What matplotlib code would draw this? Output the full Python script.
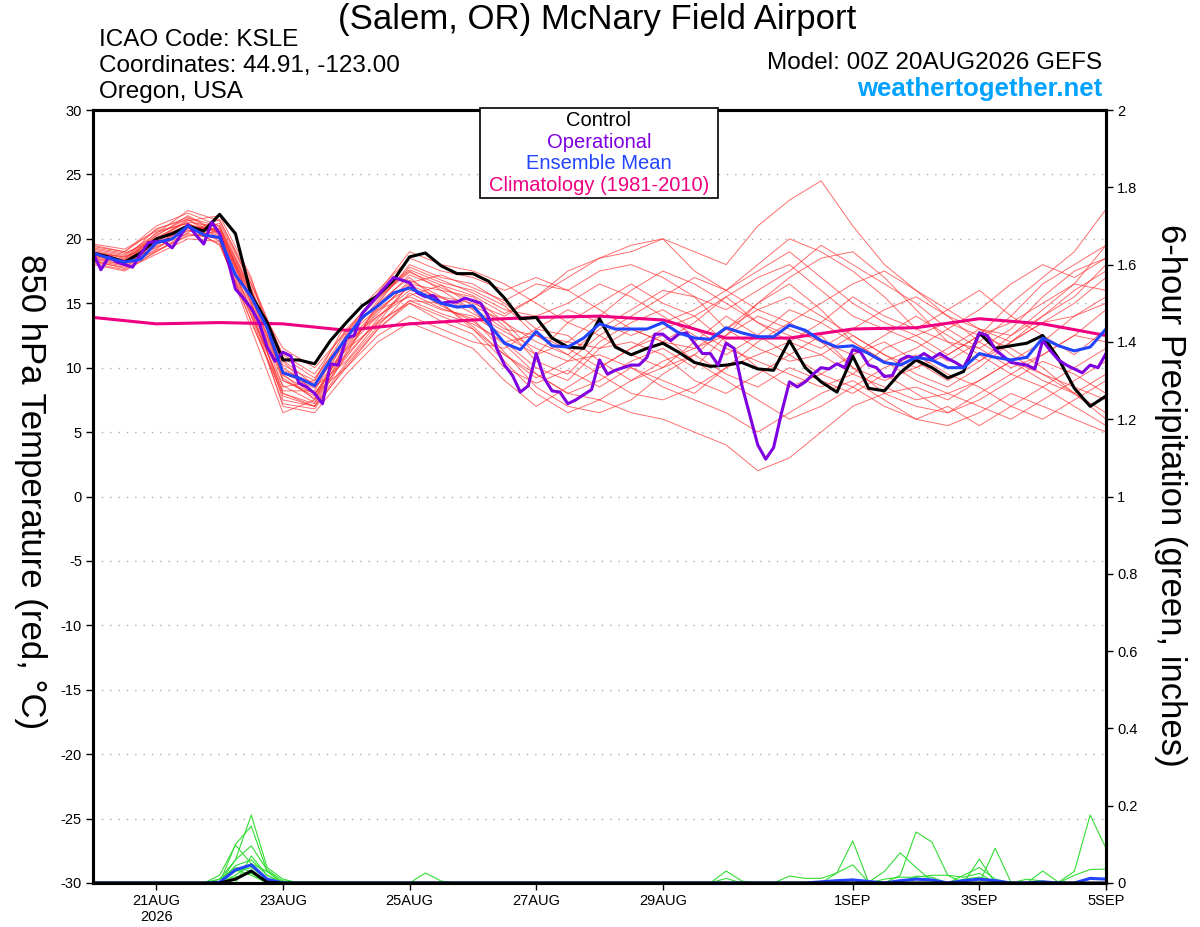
import numpy as np
import pandas as pd
import matplotlib
matplotlib.use('Agg')
import matplotlib.pyplot as plt
from matplotlib.patches import Rectangle

plt.rcParams['font.family'] = ['Liberation Sans', 'DejaVu Sans']

# ejes de tiempo (00Z 20AUG2026 a 00Z 05SEP2026)
t_start, t_end = '2026-08-20 00:00', '2026-09-05 00:00'
times6 = pd.date_range(t_start, t_end, freq='6h')
times3 = pd.date_range(t_start, t_end, freq='3h')
times12 = pd.date_range(t_start, t_end, freq='12h')
times24 = pd.date_range(t_start, t_end, freq='24h')

# control (negro), cada 6 h
control = [18.9, 18.6, 18.2, 18.9, 20.0, 20.4, 21.0, 20.6, 21.9, 20.4,
           15.6, 13.5, 10.6, 10.6, 10.3, 12.1, 13.5, 14.8, 15.6, 16.8,
           18.6, 18.9, 17.9, 17.3, 17.3, 16.7, 15.4, 13.8, 13.9, 12.3,
           11.6, 11.5, 13.8, 11.6, 11.0, 11.5, 11.9, 11.2, 10.4, 10.1,
           10.2, 10.4, 9.9, 9.8, 12.1, 10.0, 8.9, 8.1, 10.9, 8.4,
           8.2, 9.6, 10.6, 10.0, 9.2, 9.7, 12.7, 11.5, 11.7, 11.9,
           12.5, 10.7, 8.4, 7.0, 7.8]

# operacional (morado), cada 3 h
operational = [18.9, 17.6, 18.6, 18.2, 18.0, 17.8, 18.8, 19.7, 19.8, 19.8,
               19.3, 20.2, 21.1, 20.3, 19.6, 21.3, 20.4, 18.4, 16.1, 15.4,
               14.6, 13.5, 11.6, 10.5, 11.2, 10.9, 8.8, 8.5, 8.0, 7.2,
               10.3, 10.2, 12.3, 12.5, 14.2, 14.9, 15.6, 16.3, 17.0, 16.8,
               16.6, 15.8, 15.5, 15.6, 15.0, 15.1, 15.1, 15.4, 15.2, 15.0,
               13.9, 11.5, 10.2, 9.4, 8.1, 8.6, 11.1, 9.2, 8.2, 8.1,
               7.2, 7.5, 7.9, 8.3, 10.6, 9.5, 9.8, 10.0, 10.2, 10.2,
               10.8, 12.6, 12.6, 12.1, 12.6, 12.7, 11.9, 11.1, 11.1, 10.2,
               11.9, 11.5, 8.6, 6.3, 4.0, 2.9, 3.8, 6.5, 8.9, 8.5,
               8.9, 9.5, 10.0, 9.9, 10.3, 10.0, 11.4, 11.2, 10.2, 10.0,
               9.3, 9.4, 10.6, 10.9, 10.7, 11.1, 10.7, 11.1, 10.7, 10.4,
               10.0, 11.2, 12.7, 12.5, 11.4, 10.9, 10.4, 10.3, 10.2, 9.9,
               12.1, 11.3, 10.6, 10.2, 9.9, 9.6, 10.2, 10.0, 11.1]

# media del ensamble (azul), cada 6 h
ens_mean = [18.9, 18.5, 18.2, 18.4, 19.7, 20.0, 21.0, 20.3, 20.1, 17.2,
            15.5, 13.1, 9.6, 9.2, 8.6, 10.6, 12.3, 13.9, 14.8, 15.8,
            16.2, 15.6, 15.0, 14.7, 14.8, 13.4, 11.9, 11.4, 12.8, 11.7,
            11.6, 12.3, 13.4, 13.0, 13.0, 13.0, 13.5, 12.7, 12.3, 12.2,
            13.1, 12.7, 12.4, 12.4, 13.3, 12.9, 12.1, 11.6, 11.7, 11.1,
            10.4, 10.2, 10.8, 10.6, 10.0, 10.0, 11.1, 10.8, 10.6, 10.8,
            12.3, 11.7, 11.3, 11.6, 13.0]

# climatologia 1981-2010 (rosa), diaria
climatology = [13.9, 13.4, 13.5, 13.4, 12.9, 13.4, 13.7, 13.9, 14.0, 13.7,
               12.3, 12.3, 13.0, 13.1, 13.8, 13.4, 12.5]

# miembros del ensamble (rojo), cada 12 h
members_temp = [
    [18.5, 18.0, 19.5, 21.0, 20.5, 15.0, 9.0, 8.0, 11.5, 14.0, 16.0, 15.5, 15.0, 14.0, 15.5, 17.0, 18.5, 19.0, 20.0, 19.0, 18.0, 21.0, 23.0, 24.5, 21.0, 18.0, 16.0, 14.0, 13.0, 12.0, 13.5, 15.0, 17.0],
    [19.0, 18.5, 20.0, 21.5, 20.0, 14.5, 8.0, 7.0, 10.0, 13.0, 15.0, 14.0, 13.0, 11.0, 9.5, 8.0, 7.5, 6.5, 6.0, 5.0, 4.0, 2.0, 3.0, 5.0, 7.0, 8.0, 8.5, 7.5, 9.0, 10.5, 9.0, 8.0, 9.5],
    [18.0, 17.5, 19.0, 20.5, 21.5, 16.5, 11.0, 9.5, 13.0, 15.5, 17.5, 16.0, 15.5, 13.5, 12.0, 11.0, 13.0, 14.5, 16.0, 15.5, 13.0, 11.5, 10.5, 11.0, 12.5, 11.0, 9.5, 8.5, 10.0, 12.0, 13.5, 14.0, 15.0],
    [19.5, 19.0, 21.0, 22.0, 21.0, 15.0, 7.5, 7.0, 11.0, 15.0, 18.0, 17.0, 16.5, 15.0, 13.0, 12.5, 10.5, 9.0, 10.5, 11.5, 12.5, 14.0, 13.0, 12.0, 10.0, 8.0, 7.0, 6.5, 8.0, 9.5, 11.0, 12.5, 14.5],
    [18.8, 18.2, 20.5, 21.2, 19.8, 13.0, 6.5, 7.5, 12.0, 14.5, 15.5, 14.5, 14.0, 12.5, 11.0, 13.5, 15.0, 16.5, 15.0, 14.0, 15.5, 17.0, 18.0, 16.0, 14.0, 13.0, 12.0, 10.5, 12.0, 14.0, 16.5, 18.0, 19.5],
    [18.2, 17.8, 19.2, 20.8, 20.8, 16.0, 10.0, 8.5, 10.5, 13.5, 16.5, 16.0, 14.5, 12.0, 10.0, 9.0, 11.5, 12.0, 11.0, 9.0, 8.0, 9.5, 11.0, 12.5, 10.0, 9.0, 10.0, 11.5, 13.0, 11.0, 9.5, 8.0, 6.5],
    [19.2, 18.8, 20.2, 21.8, 20.5, 15.5, 9.5, 7.5, 12.5, 15.0, 17.0, 15.0, 13.0, 10.5, 8.0, 6.5, 7.5, 9.0, 10.0, 12.0, 14.0, 12.5, 11.0, 9.5, 8.5, 7.0, 6.0, 5.5, 6.5, 8.0, 7.0, 6.0, 5.0],
    [18.6, 18.3, 19.8, 21.0, 19.5, 14.0, 8.5, 9.0, 13.5, 16.0, 18.5, 17.5, 17.0, 16.0, 17.0, 16.0, 14.5, 13.0, 12.0, 11.5, 13.0, 15.0, 16.5, 14.5, 12.0, 10.5, 11.5, 13.0, 14.5, 16.5, 18.0, 17.0, 18.5],
    [19.0, 18.6, 19.6, 20.6, 21.2, 16.5, 10.5, 8.0, 10.0, 12.5, 14.0, 13.0, 12.0, 11.5, 13.0, 14.5, 13.5, 12.5, 13.5, 14.5, 16.0, 18.0, 20.0, 19.0, 17.5, 15.5, 13.0, 12.0, 11.5, 10.0, 11.0, 12.5, 12.0],
    [18.4, 18.0, 19.4, 20.4, 20.0, 14.5, 7.0, 6.5, 9.5, 12.0, 13.5, 12.5, 11.5, 9.0, 7.0, 8.5, 10.0, 11.5, 12.5, 10.5, 9.0, 7.5, 6.0, 7.0, 8.5, 10.0, 11.0, 9.5, 8.5, 7.0, 6.0, 7.5, 9.0],
    [18.9, 18.4, 20.8, 21.5, 20.3, 15.8, 11.5, 10.0, 12.8, 15.8, 19.0, 18.0, 17.5, 16.5, 15.0, 13.5, 12.5, 14.0, 15.5, 17.0, 16.0, 14.5, 13.5, 15.0, 16.5, 17.5, 16.0, 14.5, 13.0, 12.5, 14.0, 16.0, 17.5],
    [19.3, 18.9, 19.9, 21.4, 21.8, 17.0, 9.0, 7.8, 11.8, 14.2, 16.8, 15.5, 14.2, 12.8, 11.5, 10.5, 11.0, 10.0, 9.0, 8.0, 10.0, 12.0, 13.5, 12.0, 11.0, 12.5, 14.0, 12.5, 11.0, 9.5, 8.5, 10.0, 11.5],
    [18.1, 17.6, 18.8, 20.0, 19.8, 13.5, 8.0, 7.2, 11.2, 14.8, 17.2, 16.2, 15.2, 13.2, 10.5, 9.5, 12.0, 13.5, 14.5, 13.0, 11.5, 10.5, 9.5, 8.5, 9.5, 11.5, 12.5, 13.5, 12.5, 13.5, 15.0, 16.5, 16.0],
    [18.7, 18.1, 20.3, 21.6, 21.0, 16.2, 9.8, 8.8, 12.2, 15.2, 17.8, 16.8, 15.8, 14.5, 14.0, 15.0, 16.5, 15.5, 14.0, 12.5, 11.0, 12.5, 14.5, 13.5, 12.0, 10.5, 9.0, 8.0, 9.0, 10.5, 12.0, 14.0, 15.5],
    [19.6, 19.2, 20.6, 21.2, 20.2, 14.2, 8.2, 8.2, 12.6, 15.6, 17.6, 16.6, 16.0, 14.8, 12.5, 11.0, 9.5, 8.0, 7.5, 8.5, 10.0, 11.0, 12.0, 11.0, 9.5, 8.5, 7.5, 8.0, 7.0, 6.0, 7.5, 9.0, 10.5],
    [18.3, 17.9, 19.1, 20.2, 20.6, 15.2, 9.2, 7.6, 10.8, 13.8, 16.4, 15.4, 14.6, 13.0, 12.5, 12.0, 14.0, 16.0, 17.5, 16.5, 15.0, 13.5, 12.5, 11.5, 13.0, 14.5, 15.5, 14.0, 12.0, 10.5, 9.5, 8.5, 7.5],
    [19.1, 18.7, 20.4, 22.2, 21.4, 16.8, 10.8, 9.2, 12.4, 14.6, 16.2, 14.8, 13.6, 11.8, 9.5, 8.0, 9.0, 10.5, 11.5, 10.0, 12.5, 15.0, 17.0, 18.5, 19.0, 17.0, 14.5, 12.0, 10.5, 12.0, 14.0, 15.5, 18.0],
    [18.5, 18.2, 19.7, 20.9, 20.7, 15.6, 9.6, 8.4, 11.4, 13.4, 15.2, 14.2, 13.4, 12.0, 12.5, 11.5, 10.0, 11.5, 13.0, 14.0, 12.0, 10.0, 8.5, 9.5, 11.0, 12.0, 10.5, 9.0, 10.5, 12.5, 14.5, 16.5, 19.5],
    [18.8, 18.3, 19.3, 20.7, 19.6, 13.6, 7.8, 7.0, 10.4, 13.2, 15.8, 14.6, 13.8, 11.2, 8.5, 7.0, 6.5, 7.5, 9.5, 11.0, 13.0, 14.5, 15.5, 14.0, 12.5, 11.0, 10.0, 11.0, 12.5, 11.5, 10.0, 8.0, 6.0],
    [18.9, 18.6, 20.1, 21.3, 20.9, 16.0, 10.2, 9.0, 12.8, 15.4, 17.4, 16.4, 15.6, 14.2, 15.5, 17.5, 18.5, 19.5, 20.0, 17.5, 16.0, 17.5, 19.0, 17.0, 15.0, 13.5, 12.5, 11.0, 12.5, 15.0, 17.0, 19.0, 22.3],
    [19.4, 19.0, 20.7, 21.7, 20.4, 14.8, 8.6, 7.3, 11.6, 14.4, 16.6, 17.2, 16.2, 15.2, 16.5, 16.0, 17.5, 18.0, 17.0, 15.5, 14.5, 16.0, 17.5, 19.5, 18.0, 16.5, 15.0, 13.0, 11.5, 13.0, 15.5, 17.5, 18.5],
    [18.3, 17.7, 19.0, 20.3, 20.1, 15.4, 9.4, 8.0, 11.0, 13.6, 15.0, 13.6, 12.6, 10.0, 8.8, 9.8, 8.5, 10.0, 8.5, 7.5, 6.5, 5.0, 6.5, 8.0, 9.0, 7.5, 6.0, 7.0, 5.5, 7.0, 8.5, 7.0, 5.5],
    [18.7, 18.4, 20.0, 21.1, 20.6, 15.9, 10.6, 8.6, 12.0, 14.0, 15.6, 16.4, 14.8, 13.6, 11.0, 12.0, 11.5, 13.0, 12.0, 13.5, 15.5, 13.5, 12.0, 13.5, 15.5, 14.0, 13.0, 14.5, 16.0, 14.0, 12.5, 11.0, 13.0],
    [19.0, 18.1, 19.6, 20.9, 20.0, 14.0, 7.2, 6.8, 10.2, 13.0, 15.2, 15.0, 13.2, 11.0, 9.2, 10.5, 12.5, 11.0, 10.0, 11.0, 9.5, 8.5, 10.0, 9.0, 8.0, 9.5, 8.0, 6.5, 7.5, 9.0, 10.5, 9.5, 8.0],
]

# precipitacion de 6 h (pulgadas): solo pasos no nulos {paso: valor}
members_precip = [
    {8: 0.01, 9: 0.06, 10: 0.176, 11: 0.04, 12: 0.01},
    {9: 0.10, 10: 0.147, 11: 0.03},
    {8: 0.02, 9: 0.098, 10: 0.05, 11: 0.01, 51: 0.02, 52: 0.132, 53: 0.106, 54: 0.02},
    {9: 0.06, 10: 0.096, 11: 0.034, 12: 0.005, 13: 0.003, 14: 0.003},
    {9: 0.045, 10: 0.06, 11: 0.02, 21: 0.026, 22: 0.005},
    {9: 0.03, 10: 0.04, 11: 0.01, 40: 0.031, 41: 0.005, 47: 0.026, 48: 0.109, 49: 0.002, 57: 0.09, 58: 0.002},
    {8: 0.01, 9: 0.04, 10: 0.03, 11: 0.005, 44: 0.018, 45: 0.012, 46: 0.012, 47: 0.026, 48: 0.047,
     49: 0.002, 50: 0.03, 51: 0.078, 52: 0.04, 53: 0.005, 56: 0.062},
    {9: 0.02, 10: 0.05, 11: 0.03, 60: 0.031, 61: 0.002, 62: 0.03, 63: 0.176, 64: 0.09},
    {9: 0.035, 10: 0.02, 40: 0.012, 52: 0.018, 53: 0.015, 55: 0.02, 56: 0.04, 57: 0.01, 62: 0.02, 63: 0.035, 64: 0.036},
    {10: 0.07, 11: 0.02, 50: 0.01, 51: 0.015, 52: 0.015, 53: 0.02, 54: 0.02, 55: 0.015, 56: 0.025, 59: 0.01, 60: 0.005},
    {9: 0.015, 10: 0.025, 12: 0.005, 48: 0.01, 55: 0.01, 56: 0.015, 57: 0.005},
]
mean_precip = {8: 0.002, 9: 0.034, 10: 0.047, 11: 0.01, 46: 0.003, 47: 0.006, 48: 0.008, 49: 0.004,
               51: 0.006, 52: 0.01, 53: 0.008, 55: 0.006, 56: 0.01, 57: 0.006, 60: 0.003, 63: 0.012, 64: 0.01}
control_precip = {9: 0.01, 10: 0.031, 11: 0.002}

# etiquetas
temp_ticks = list(range(-30, 31, 5))
precip_ticks = [0, 0.2, 0.4, 0.6, 0.8, 1.0, 1.2, 1.4, 1.6, 1.8, 2.0]
precip_labels = ['0', '0.2', '0.4', '0.6', '0.8', '1', '1.2', '1.4', '1.6', '1.8', '2']
date_ticks = pd.to_datetime(['2026-08-21', '2026-08-23', '2026-08-25', '2026-08-27',
                             '2026-08-29', '2026-09-01', '2026-09-03', '2026-09-05'])
date_labels = ['21AUG\n2026', '23AUG', '25AUG', '27AUG', '29AUG', '1SEP', '3SEP', '5SEP']


def to_series(d):
    s = np.zeros(len(times6))
    for k, v in d.items():
        s[k] = v
    return s


fig = plt.figure(figsize=(12, 9.27), dpi=100)
ax = fig.add_axes([93 / 1200, 1 - 883 / 927, 1013 / 1200, 773 / 927])

for m in members_temp:
    ax.plot(times12, m, color='#ff3030', lw=0.7, alpha=0.7)
ax.plot(times24, climatology, color='#ee0080', lw=2.2)
ax.plot(times6, control, color='black', lw=2.2)
ax.plot(times3, operational, color='#7f00e0', lw=2.2)
ax.plot(times6, ens_mean, color='#2244ff', lw=2.2)

ax.set_xlim(times6[0], times6[-1])
ax.set_ylim(-30, 30)
ax.set_yticks(temp_ticks)
ax.set_yticklabels([str(v) for v in temp_ticks])
ax.set_xticks(date_ticks)
ax.set_xticklabels(date_labels)
ax.yaxis.grid(True, color='#aaaaaa', linestyle=(0, (1, 5)), linewidth=1)
ax.tick_params(direction='out', length=5, width=1, labelsize=10.5, pad=3)

ax2 = ax.twinx()
for d in members_precip:
    ax2.plot(times6, to_series(d), color='#33dd33', lw=0.8)
ax2.plot(times6, to_series(mean_precip), color='#2244ff', lw=2.2)
ax2.plot(times6, to_series(control_precip), color='black', lw=2.2)
ax2.set_ylim(0, 2)
ax2.set_yticks(precip_ticks)
ax2.set_yticklabels(precip_labels)
ax2.tick_params(direction='out', length=5, width=1, labelsize=10.5, pad=3)

for a in (ax, ax2):
    for s in a.spines.values():
        s.set_linewidth(2.2)

# caja de leyenda
ax2.add_patch(Rectangle((0.382, 0.886), 0.235, 0.1166, transform=ax2.transAxes,
                        facecolor='white', edgecolor='black', lw=1.2, zorder=10, clip_on=False))
leg_items = [('Control', 'black'), ('Operational', '#7f00e0'),
             ('Ensemble Mean', '#2244ff'), ('Climatology (1981-2010)', '#ee0080')]
for k, (txt, col) in enumerate(leg_items):
    ax2.text(0.4995, 0.986 - k * 0.0277, txt, color=col, fontsize=14.5, ha='center', va='center',
             transform=ax2.transAxes, zorder=11)

# textos
fig.text(597 / 1200, 1 - 20 / 927, '(Salem, OR) McNary Field Airport', fontsize=25, ha='center', va='center')
fig.text(99 / 1200, 1 - 40 / 927, 'ICAO Code: KSLE', fontsize=17.5, ha='left', va='center')
fig.text(99 / 1200, 1 - 66 / 927, 'Coordinates: 44.91, -123.00', fontsize=17.5, ha='left', va='center')
fig.text(99 / 1200, 1 - 92 / 927, 'Oregon, USA', fontsize=17.5, ha='left', va='center')
fig.text(1102 / 1200, 1 - 63 / 927, 'Model: 00Z 20AUG2026 GEFS', fontsize=17.5, ha='right', va='center')
fig.text(1102 / 1200, 1 - 89 / 927, 'weathertogether.net', fontsize=18.5, fontweight='bold',
         color='#00a2ff', ha='right', va='center')
fig.text(30 / 1200, 1 - 492 / 927, '850 hPa Temperature (red, °C)', fontsize=25, rotation=270,
         ha='center', va='center')
fig.text(1170 / 1200, 1 - 495 / 927, '6-hour Precipitation (green, inches)', fontsize=25, rotation=270,
         ha='center', va='center')

fig.savefig('out.png', dpi=100)
